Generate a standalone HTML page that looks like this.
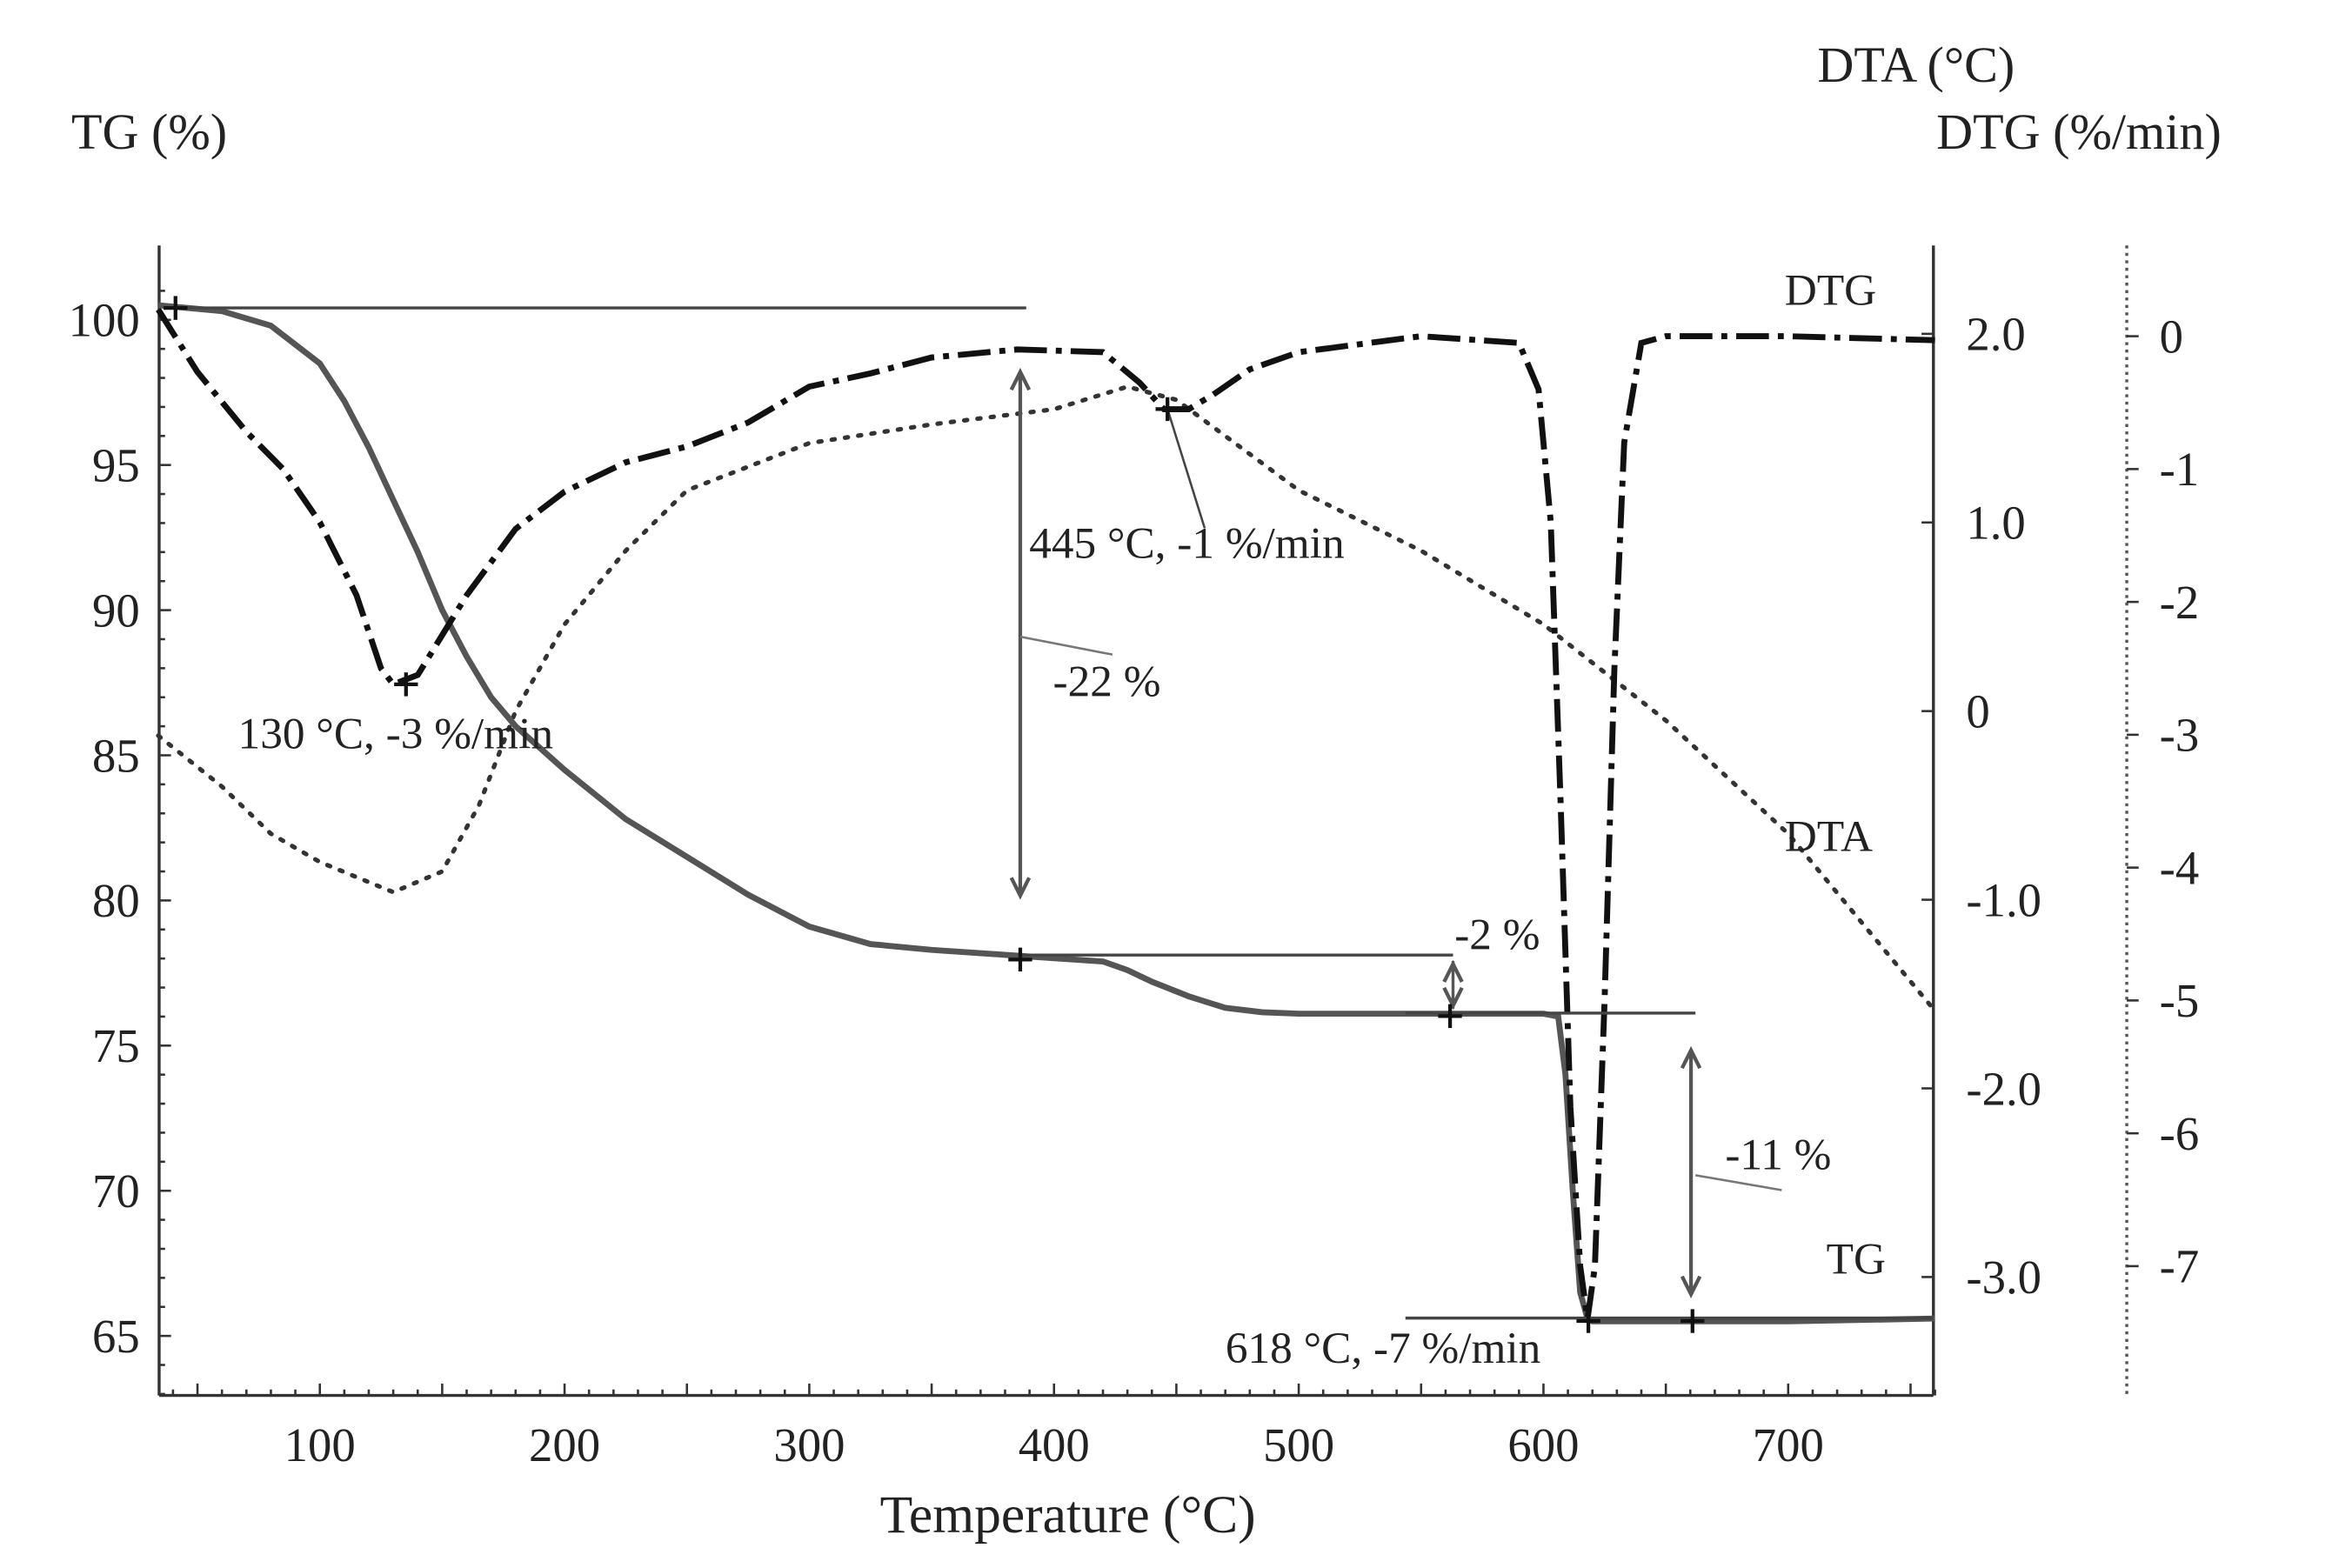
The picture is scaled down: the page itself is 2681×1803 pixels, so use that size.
<!DOCTYPE html>
<html><head><meta charset="utf-8"><style>
html,body{margin:0;padding:0;background:#fff;}
svg{display:block;}
text{font-family:"Liberation Serif",serif;fill:#222;}
</style></head><body>
<svg id="chart" width="2681" height="1803" viewBox="0 0 1568 1054" preserveAspectRatio="none" xmlns="http://www.w3.org/2000/svg">
<g id="axes"></g>
<g id="series"></g>
<g id="annot"></g>
</svg>
<script>
const tgT=[34,60,80,100,110,120,130,140,150,160,170,180,200,225,250,275,300,325,350,385,420,430,440,455,470,485,500,550,600,606,609,612,615,618,620,650,700,760];
const tgV=[100.5,100.3,99.8,98.5,97.2,95.6,93.8,92,90,88.4,87,86,84.5,82.8,81.5,80.2,79.1,78.5,78.3,78.1,77.9,77.6,77.2,76.7,76.3,76.15,76.1,76.1,76.1,76,74,70,66.5,65.6,65.5,65.5,65.5,65.6];
const dtgT=[34,50,70,85,100,115,125,130,140,160,180,200,225,250,275,300,325,350,385,420,435,445,455,465,480,500,550,590,598,603,607,611,615,618,621,625,629,633,640,650,700,760];
const dtgV=[0.2,-0.27,-0.72,-1.0,-1.4,-1.95,-2.5,-2.62,-2.55,-1.95,-1.45,-1.17,-0.95,-0.83,-0.65,-0.38,-0.28,-0.16,-0.1,-0.12,-0.35,-0.55,-0.55,-0.44,-0.25,-0.12,0.0,-0.05,-0.4,-1.4,-3.5,-5.8,-7.0,-7.4,-7.0,-5.0,-2.5,-0.8,-0.05,0.0,0.0,-0.03];
const dtaT=[34,60,80,100,130,150,165,180,200,225,250,300,350,400,430,450,500,550,600,650,700,760];
const dtaV=[-0.13,-0.4,-0.65,-0.8,-0.96,-0.85,-0.5,0.0,0.46,0.85,1.17,1.42,1.52,1.6,1.72,1.65,1.17,0.85,0.46,-0.05,-0.65,-1.59];
const xTicks=[100,200,300,400,500,600,700];
const tgTicks=[100,95,90,85,80,75,70,65];
const dtaTicks=[2.0,1.0,0,-1.0,-2.0,-3.0];
const dtaLabels=["2.0","1.0","0","-1.0","-2.0","-3.0"];
const dtgTicks=[0,-1,-2,-3,-4,-5,-6,-7];

const NS="http://www.w3.org/2000/svg";
const X=t=>50.5+t*1.6455;
const YL=v=>215+(100-v)*19.514;
const YA=v=>478-v*126.8;
const YG=v=>226-v*89.3;
function mk(tag,attrs,parent,txt){const e=document.createElementNS(NS,tag);for(const k in attrs)e.setAttribute(k,attrs[k]);if(txt!==undefined)e.textContent=txt;parent.appendChild(e);return e;}
const axes=document.getElementById('axes'),ser=document.getElementById('series'),an=document.getElementById('annot');

let e;
e=mk('line',{x1:107,y1:165,x2:107,y2:938,stroke:'#333','stroke-width':2},axes);


e=mk('line',{x1:107,y1:938,x2:1300,y2:938,stroke:'#333','stroke-width':2},axes);


e=mk('line',{x1:1300,y1:165,x2:1300,y2:938,stroke:'#333','stroke-width':2},axes);


e=mk('line',{x1:1430,y1:165,x2:1430,y2:938,stroke:'#555','stroke-width':2,'stroke-dasharray':'2 3'},axes);


for(let t=40;t<=760;t+=10){mk('line',{x1:X(t),y1:938,x2:X(t),y2:t%50===0?930:934,stroke:'#333','stroke-width':1.5},axes);}
for(let v=101;v>=63;v--){mk('line',{x1:107,y1:YL(v),x2:v%5===0?115:111,y2:YL(v),stroke:'#333','stroke-width':1.5},axes);}
xTicks.forEach(t=>{const el=mk('text',{x:X(t),y:982,'font-size':32,'text-anchor':'middle'},axes,String(t));

});
tgTicks.forEach(v=>{const el=mk('text',{x:94,y:YL(v)+11,'font-size':32,'text-anchor':'end'},axes,String(v));

});
dtaTicks.forEach((v,i)=>{mk('line',{x1:1300,y1:YA(v),x2:1292,y2:YA(v),stroke:'#333','stroke-width':1.5},axes);
const el=mk('text',{x:1322,y:YA(v)+11,'font-size':32},axes,dtaLabels[i]);

});
dtgTicks.forEach(v=>{mk('line',{x1:1430,y1:YG(v),x2:1438,y2:YG(v),stroke:'#333','stroke-width':1.5},axes);
const el=mk('text',{x:1452,y:YG(v)+11,'font-size':32},axes,String(v));

});
e=mk('text',{x:48,y:100,'font-size':34},axes,'TG (%)');


e=mk('text',{x:1222,y:55,'font-size':34},axes,'DTA  (°C)');


e=mk('text',{x:1302,y:100,'font-size':34},axes,'DTG  (%/min)');


e=mk('text',{x:718,y:1030,'font-size':36,'text-anchor':'middle'},axes,'Temperature (°C)');



function path(T,V,Y,style,name){const d=T.map((t,i)=>(i?'L':'M')+X(t).toFixed(1)+','+Y(V[i]).toFixed(1)).join('');
const p=mk('path',Object.assign({d:d,fill:'none'},style),ser);

}
path(dtaT,dtaV,YA,{stroke:'#333','stroke-width':3,'stroke-dasharray':'2 7','stroke-linecap':'round'},'dta-curve');
path(tgT,tgV,YL,{stroke:'#555','stroke-width':4},'tg-curve');
path(dtgT,dtgV,YG,{stroke:'#111','stroke-width':4,'stroke-dasharray':'22 6 4 6'},'dtg-curve');

const L=(x1,y1,x2,y2,w,c)=>mk('line',{x1,y1,x2,y2,stroke:c||'#444','stroke-width':w||2},an);
L(115,207,690,207);L(685,642,977,642);L(945,681,1140,681);L(945,886,1300,886);
L(686,250,686,602,2.5,'#555');L(977,646,977,678,2,'#555');L(1137,706,1137,870,2.5,'#555');
L(686,428,748,440,1.5,'#777');L(1140,790,1198,800,1.5,'#777');L(785,275,810,355,1.5,'#444');
function arrow(x,y,dir){mk('path',{d:`M${x-6},${y-dir*12}L${x},${y}L${x+6},${y-dir*12}`,fill:'none',stroke:'#555','stroke-width':2.5},an);}
arrow(686,250,-1);arrow(686,602,1);arrow(977,648,-1);arrow(977,676,1);arrow(1137,706,-1);arrow(1137,870,1);
[[118,207],[273,460],[785,275],[686,645],[975,683],[1068,888],[1138,888]].forEach(([x,y])=>{L(x-8,y,x+8,y,2.5,'#111');L(x,y-8,x,y+8,2.5,'#111');});
const T=(x,y,s,n,c)=>{const t=mk('text',{x,y,'font-size':30,fill:c||'#222'},an,s);

};
T(160,503,'130 °C, -3 %/min','peak-label-130');
T(692,375,'445 °C, -1 %/min','peak-label-445');
T(708,468,'-22 %','mass-loss-22','#555');
T(978,638,'-2 %','mass-loss-2','#555');
T(1160,786,'-11 %','mass-loss-11','#555');
T(824,916,'618 °C, -7 %/min','peak-label-618');
T(1200,205,'DTG','dtg-series-label');
T(1200,572,'DTA','dta-series-label');
T(1228,856,'TG','tg-series-label');
</script>
</body></html>
